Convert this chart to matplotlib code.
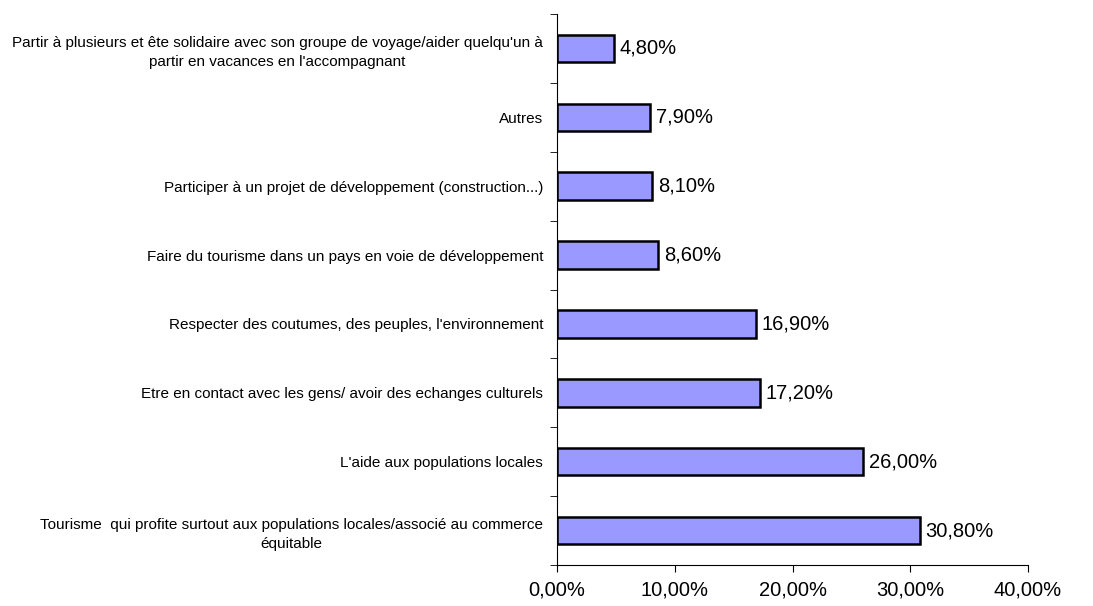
import matplotlib
matplotlib.use("Agg")
import matplotlib.pyplot as plt
import numpy as np

categories = [
    "Tourisme  qui profite surtout aux populations locales/associé au commerce\néquitable",
    "L'aide aux populations locales",
    "Etre en contact avec les gens/ avoir des echanges culturels",
    "Respecter des coutumes, des peuples, l'environnement",
    "Faire du tourisme dans un pays en voie de développement",
    "Participer à un projet de développement (construction...)",
    "Autres",
    "Partir à plusieurs et ête solidaire avec son groupe de voyage/aider quelqu'un à\npartir en vacances en l'accompagnant",
]
values = [30.8, 26.0, 17.2, 16.9, 8.6, 8.1, 7.9, 4.8]
xticks = [0, 10, 20, 30, 40]

plt.rcParams['font.family'] = ['Liberation Sans', 'DejaVu Sans']

fig = plt.figure(figsize=(10.93, 6.06), dpi=100)
ax = fig.add_axes([557/1093, 1-565/606, (1028-557)/1093, (565-14)/606])

y = np.arange(len(categories))
ax.barh(y, values, height=0.4, color='#9999FF', edgecolor='black', linewidth=1.8)
for yi, v in zip(y, values):
    ax.text(v + 0.5, yi, f"{v:.2f}%".replace('.', ','), va='center', ha='left', fontsize=14.5)

ax.set_xlim(0, 40)
ax.set_ylim(-0.5, len(categories) - 0.5)
ax.set_xticks(xticks)
ax.set_xticklabels([f"{t:.2f}%".replace('.', ',') for t in xticks], fontsize=14.5)
ax.set_yticks(y)
ax.set_yticklabels(categories, fontsize=11, multialignment='center', linespacing=1.45)
ax.set_yticks(np.arange(-0.5, len(categories)), minor=True)
ax.tick_params(axis='y', which='major', length=0, pad=10)
ax.tick_params(axis='y', which='minor', length=5, direction='out')
ax.tick_params(axis='x', length=5, direction='out', pad=6)
for s in ['top', 'right']:
    ax.spines[s].set_visible(False)
for s in ['left', 'bottom']:
    ax.spines[s].set_linewidth(0.8)

fig.savefig("out.png", dpi=100)
